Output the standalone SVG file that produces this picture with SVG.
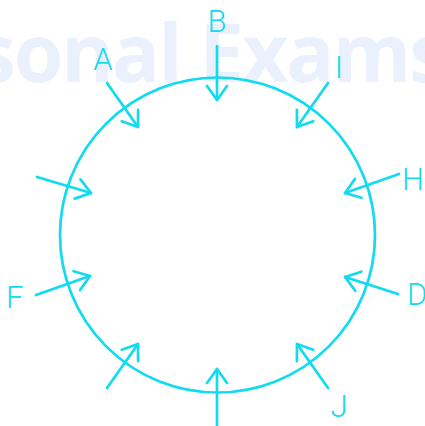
<svg xmlns="http://www.w3.org/2000/svg" width="425" height="426" viewBox="0 0 425 426">
<style>
.wm{font-family:"Open Sans","Liberation Sans",sans-serif;font-weight:700;font-size:80px;fill:#eaf1fc}
.lbl{font-family:Roboto,"Liberation Sans",sans-serif;font-weight:300;font-size:31px;fill:#10dbf0}
.ln{stroke:#10dbf0;stroke-width:2.7;fill:none;stroke-linecap:round}
</style>
<defs>
<marker id="ah" markerUnits="userSpaceOnUse" viewBox="-16 -12 18 24" refX="0" refY="0" markerWidth="18" markerHeight="24" orient="auto">
<path d="M-14,-10 L0,0 L-14,10" fill="none" stroke="#10dbf0" stroke-width="2.7" stroke-linecap="round" stroke-linejoin="round"/>
</marker>
</defs>
<rect width="425" height="426" fill="#ffffff"/>
<text class="wm" x="-24" y="82" textLength="473" lengthAdjust="spacing">sonal Exams</text>
<g id="ring"><circle class="ln" cx="217.5" cy="235" r="157.5"/></g>
<g id="connectors">
<line class="ln" x1="217" y1="46" x2="217" y2="100" marker-end="url(#ah)"/>
<line class="ln" x1="107" y1="83" x2="138" y2="127" marker-end="url(#ah)"/>
<line class="ln" x1="328" y1="83" x2="297" y2="127" marker-end="url(#ah)"/>
<line class="ln" x1="37" y1="177" x2="91" y2="193" marker-end="url(#ah)"/>
<line class="ln" x1="399" y1="174" x2="345" y2="193" marker-end="url(#ah)"/>
<line class="ln" x1="36" y1="295" x2="90" y2="276" marker-end="url(#ah)"/>
<line class="ln" x1="398" y1="294" x2="345" y2="277" marker-end="url(#ah)"/>
<line class="ln" x1="217" y1="426" x2="217" y2="369" marker-end="url(#ah)"/>
<line class="ln" x1="107" y1="388" x2="138" y2="344" marker-end="url(#ah)"/>
<line class="ln" x1="328" y1="388" x2="297" y2="344" marker-end="url(#ah)"/>
</g>
<g id="A"><text class="lbl" x="103" y="70" text-anchor="middle">A</text></g>
<g id="B"><text class="lbl" x="217" y="32" text-anchor="middle">B</text></g>
<g id="I"><text class="lbl" x="339" y="78" text-anchor="middle">I</text></g>
<g id="H"><text class="lbl" x="413" y="190" text-anchor="middle">H</text></g>
<g id="D"><text class="lbl" x="407" y="305">D</text></g>
<g id="F"><text class="lbl" x="6" y="308">F</text></g>
<g id="J"><text class="lbl" x="339" y="417" text-anchor="middle">J</text></g>
</svg>
